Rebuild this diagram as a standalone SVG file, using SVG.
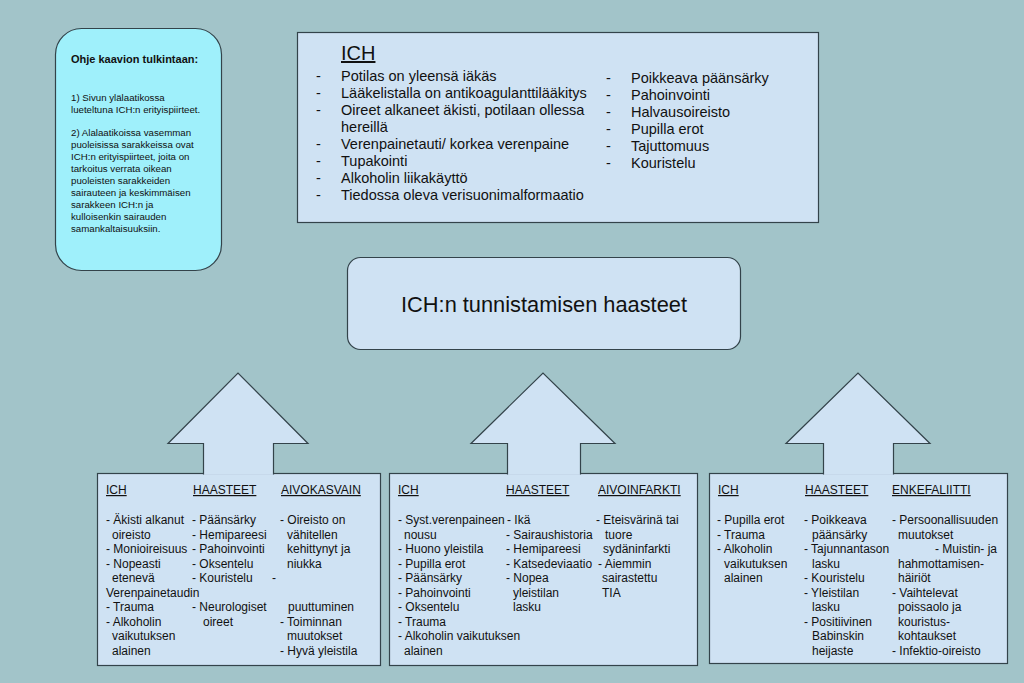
<svg xmlns="http://www.w3.org/2000/svg" width="1024" height="683" viewBox="0 0 1024 683">
<style>
text{font-family:"Liberation Sans",Arial,sans-serif;fill:#111}
.box{fill:#cfe2f3;stroke:#33434a;stroke-width:1.2}
.arr{fill:#cfe2f3;stroke:#33434a;stroke-width:1.2;stroke-linejoin:miter}
.t15{font-size:14.5px}
.t12{font-size:12px}
.t9{font-size:9.7px}
.u{text-decoration:underline}
</style>
<rect width="1024" height="683" fill="#a2c4c9"/>

<g id="guide">
<rect x="55.5" y="28.5" width="166" height="242" rx="26" fill="#9ff0fb" stroke="#33434a" stroke-width="1.2"/>
<text x="71" y="63" style="font-size:11px;font-weight:bold">Ohje kaavion tulkintaan:</text>
<text class="t9"><tspan x="71" y="101">1) Sivun ylälaatikossa</tspan><tspan x="71" y="113">lueteltuna ICH:n erityispiirteet.</tspan><tspan x="71" y="136">2) Alalaatikoissa vasemman</tspan><tspan x="71" y="148">puoleisissa sarakkeissa ovat</tspan><tspan x="71" y="160">ICH:n erityispiirteet, joita on</tspan><tspan x="71" y="172">tarkoitus verrata oikean</tspan><tspan x="71" y="184">puoleisten sarakkeiden</tspan><tspan x="71" y="196">sairauteen ja keskimmäisen</tspan><tspan x="71" y="208">sarakkeen ICH:n ja</tspan><tspan x="71" y="220">kulloisenkin sairauden</tspan><tspan x="71" y="232">samankaltaisuuksiin.</tspan></text>
</g>

<g id="ich-features">
<rect class="box" x="297.5" y="32.5" width="521" height="190"/>
<text x="341" y="60" class="u" style="font-size:20px">ICH</text>
<text class="t15"><tspan x="316" y="81">-</tspan><tspan x="316" y="98">-</tspan><tspan x="316" y="115">-</tspan><tspan x="316" y="149">-</tspan><tspan x="316" y="166">-</tspan><tspan x="316" y="183">-</tspan><tspan x="316" y="200">-</tspan></text>
<text class="t15"><tspan x="341" y="81">Potilas on yleensä iäkäs</tspan><tspan x="341" y="98">Lääkelistalla on antikoagulanttilääkitys</tspan><tspan x="341" y="115">Oireet alkaneet äkisti, potilaan ollessa</tspan><tspan x="341" y="132">hereillä</tspan><tspan x="341" y="149">Verenpainetauti/ korkea verenpaine</tspan><tspan x="341" y="166">Tupakointi</tspan><tspan x="341" y="183">Alkoholin liikakäyttö</tspan><tspan x="341" y="200">Tiedossa oleva verisuonimalformaatio</tspan></text>
<text class="t15"><tspan x="606" y="83">-</tspan><tspan x="606" y="100">-</tspan><tspan x="606" y="117">-</tspan><tspan x="606" y="134">-</tspan><tspan x="606" y="151">-</tspan><tspan x="606" y="168">-</tspan></text>
<text class="t15"><tspan x="631" y="83">Poikkeava päänsärky</tspan><tspan x="631" y="100">Pahoinvointi</tspan><tspan x="631" y="117">Halvausoireisto</tspan><tspan x="631" y="134">Pupilla erot</tspan><tspan x="631" y="151">Tajuttomuus</tspan><tspan x="631" y="168">Kouristelu</tspan></text>
</g>

<g id="title">
<rect class="box" x="347.5" y="257.5" width="393" height="92" rx="13"/>
<text x="544" y="312" text-anchor="middle" style="font-size:21.8px">ICH:n tunnistamisen haasteet</text>
</g>

<g id="box-aivokasvain">
<rect class="box" x="97.5" y="473.5" width="283" height="192"/>
<text class="t12"><tspan x="106" y="494" class="u">ICH</tspan><tspan x="193" y="494" class="u">HAASTEET</tspan><tspan x="281" y="494" class="u">AIVOKASVAIN</tspan></text>
<text class="t12"><tspan x="106" y="524">- Äkisti alkanut</tspan><tspan x="112" y="538.5">oireisto</tspan><tspan x="106" y="553">- Monioireisuus</tspan><tspan x="106" y="567.5">- Nopeasti</tspan><tspan x="112" y="582">etenevä</tspan><tspan x="106" y="596.5">Verenpainetaudin</tspan><tspan x="106" y="611">- Trauma</tspan><tspan x="106" y="625.5">- Alkoholin</tspan><tspan x="112" y="640">vaikutuksen</tspan><tspan x="112" y="654.5">alainen</tspan></text>
<text class="t12"><tspan x="192" y="524">- Päänsärky</tspan><tspan x="192" y="538.5">- Hemipareesi</tspan><tspan x="192" y="553">- Pahoinvointi</tspan><tspan x="192" y="567.5">- Oksentelu</tspan><tspan x="192" y="582">- Kouristelu</tspan><tspan x="192" y="611">- Neurologiset</tspan><tspan x="203" y="625.5">oireet</tspan></text>
<text class="t12"><tspan x="280" y="524">- Oireisto on</tspan><tspan x="287" y="538.5">vähitellen</tspan><tspan x="287" y="553">kehittynyt ja</tspan><tspan x="287" y="567.5">niukka</tspan><tspan x="272" y="582">-</tspan><tspan x="288" y="611">puuttuminen</tspan><tspan x="280" y="625.5">- Toiminnan</tspan><tspan x="287" y="640">muutokset</tspan><tspan x="280" y="654.5">- Hyvä yleistila</tspan></text>
</g>

<g id="box-aivoinfarkti">
<rect class="box" x="389.5" y="473.5" width="308" height="192"/>
<text class="t12"><tspan x="398" y="494" class="u">ICH</tspan><tspan x="506" y="494" class="u">HAASTEET</tspan><tspan x="598" y="494" class="u">AIVOINFARKTI</tspan></text>
<text class="t12"><tspan x="398" y="524">- Syst.verenpaineen</tspan><tspan x="404" y="538.5">nousu</tspan><tspan x="398" y="553">- Huono yleistila</tspan><tspan x="398" y="567.5">- Pupilla erot</tspan><tspan x="398" y="582">- Päänsärky</tspan><tspan x="398" y="596.5">- Pahoinvointi</tspan><tspan x="398" y="611">- Oksentelu</tspan><tspan x="398" y="625.5">- Trauma</tspan><tspan x="398" y="640">- Alkoholin vaikutuksen</tspan><tspan x="404" y="654.5">alainen</tspan></text>
<text class="t12"><tspan x="507" y="524">- Ikä</tspan><tspan x="506" y="538.5">- Sairaushistoria</tspan><tspan x="506" y="553">- Hemipareesi</tspan><tspan x="506" y="567.5">- Katsedeviaatio</tspan><tspan x="506" y="582">- Nopea</tspan><tspan x="513" y="596.5">yleistilan</tspan><tspan x="513" y="611">lasku</tspan></text>
<text class="t12"><tspan x="596" y="524">- Eteisvärinä tai</tspan><tspan x="605" y="538.5">tuore</tspan><tspan x="603" y="553">sydäninfarkti</tspan><tspan x="598" y="567.5">- Aiemmin</tspan><tspan x="602" y="582">sairastettu</tspan><tspan x="602" y="596.5">TIA</tspan></text>
</g>

<g id="box-enkefaliitti">
<rect class="box" x="709.5" y="473.5" width="298" height="190"/>
<text class="t12"><tspan x="718" y="494" class="u">ICH</tspan><tspan x="805" y="494" class="u">HAASTEET</tspan><tspan x="892" y="494" class="u">ENKEFALIITTI</tspan></text>
<text class="t12"><tspan x="717" y="524">- Pupilla erot</tspan><tspan x="717" y="538.5">- Trauma</tspan><tspan x="717" y="553">- Alkoholin</tspan><tspan x="724" y="567.5">vaikutuksen</tspan><tspan x="724" y="582">alainen</tspan></text>
<text class="t12"><tspan x="804" y="524">- Poikkeava</tspan><tspan x="812" y="538.5">päänsärky</tspan><tspan x="804" y="553">- Tajunnantason</tspan><tspan x="812" y="567.5">lasku</tspan><tspan x="804" y="582">- Kouristelu</tspan><tspan x="804" y="596.5">- Yleistilan</tspan><tspan x="812" y="611">lasku</tspan><tspan x="804" y="625.5">- Positiivinen</tspan><tspan x="812" y="640">Babinskin</tspan><tspan x="812" y="654.5">heijaste</tspan></text>
<text class="t12"><tspan x="892" y="524">- Persoonallisuuden</tspan><tspan x="898" y="538.5">muutokset</tspan><tspan x="935" y="553">- Muistin- ja</tspan><tspan x="898" y="567.5">hahmottamisen-</tspan><tspan x="898" y="582">häiriöt</tspan><tspan x="892" y="596.5">- Vaihtelevat</tspan><tspan x="898" y="611">poissaolo ja</tspan><tspan x="898" y="625.5">kouristus-</tspan><tspan x="898" y="640">kohtaukset</tspan><tspan x="892" y="654.5">- Infektio-oireisto</tspan></text>
</g>

<g id="connectors">
<path class="arr" d="M203.5,474.5 V443.5 H168 L238,373 L308,443.5 H273.5 V474.5"/>
<path class="arr" d="M507.5,474.5 V443.5 H471 L543,373 L615,443.5 H580.5 V474.5"/>
<path class="arr" d="M823.5,474.5 V443.5 H786 L858,373 L930,443.5 H893.5 V474.5"/>
</g>
</svg>
